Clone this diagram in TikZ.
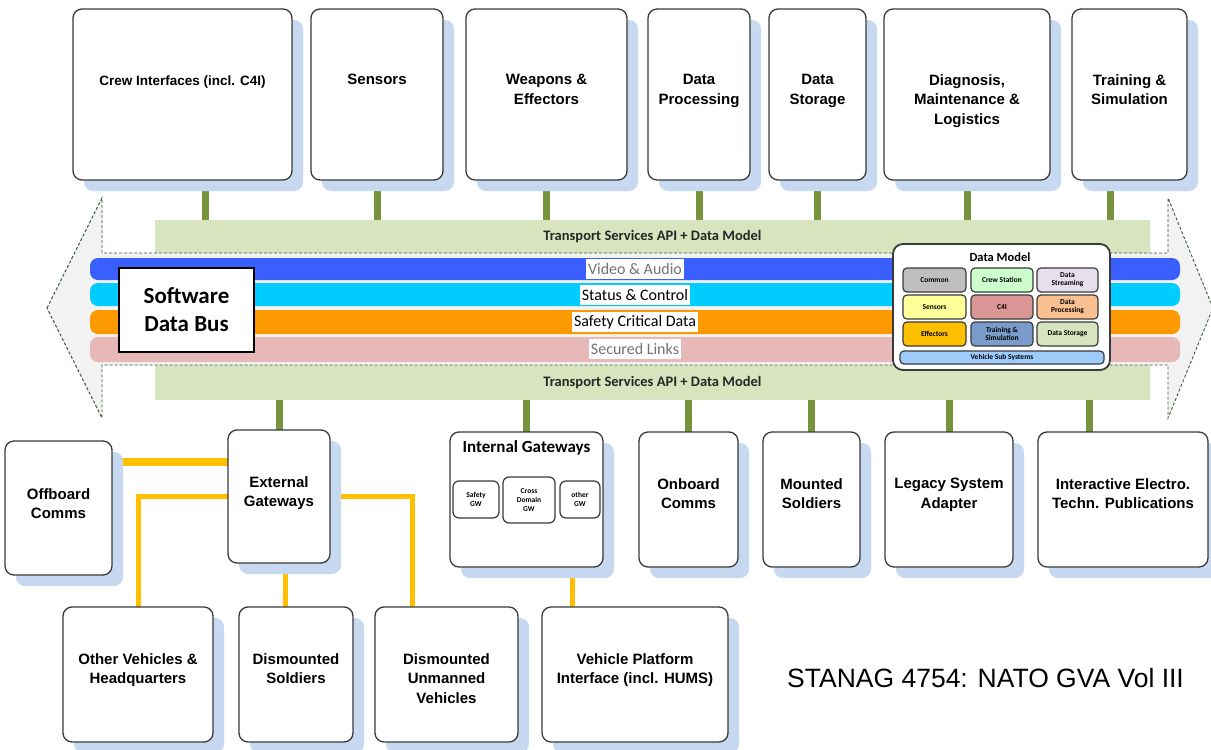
\documentclass[tikz,border=0pt]{standalone}
\usepackage{fontspec}
\setmainfont{Liberation Sans}
\newfontfamily\carl{Carlito}
\usetikzlibrary{shadows,calc}
\definecolor{shblue}{HTML}{C6D9F1}
\definecolor{bandgreen}{HTML}{D7E4BD}
\definecolor{conngreen}{HTML}{77933C}
\definecolor{connyellow}{HTML}{FFC000}
\definecolor{boxdark}{HTML}{3A3A3A}
\definecolor{lblue}{HTML}{3A5FFF}
\definecolor{lcyan}{HTML}{00CCFF}
\definecolor{lorange}{HTML}{FF9900}
\definecolor{lpink}{HTML}{E6B8B7}
\definecolor{arrowfill}{HTML}{F2F2F2}
\definecolor{arrowline}{HTML}{3C5A3C}
\definecolor{dmcommon}{HTML}{BFBFBF}
\definecolor{dmcrew}{HTML}{CCFFCC}
\definecolor{dmstream}{HTML}{E6E0EC}
\definecolor{dmsens}{HTML}{FFFF99}
\definecolor{dmcfour}{HTML}{DA9694}
\definecolor{dmproc}{HTML}{FAC090}
\definecolor{dmeff}{HTML}{FFC000}
\definecolor{dmtrain}{HTML}{7A9CCB}
\definecolor{dmstor}{HTML}{D7E4BD}
\definecolor{dmvss}{HTML}{9DCBFA}
\pgfdeclarelayer{paper}
\pgfdeclarelayer{bg}
\pgfsetlayers{paper,bg,main}
\tikzset{
  gbox/.style={draw=boxdark, line width=1.3pt, rounded corners=9pt, fill=white, inner sep=0pt, outer sep=0pt,
    drop shadow={shadow xshift=11pt, shadow yshift=-11pt, fill=shblue, opacity=1}},
  glabel/.style={font=\bfseries\fontsize{15}{19.5}\selectfont, align=center, inner sep=0pt, text=black},
  gconn/.style={draw=conngreen, line width=7pt},
  yconn/.style={draw=connyellow, line width=5pt},
  band/.style={fill=bandgreen, inner sep=0pt, font=\carl\bfseries\fontsize{14.5}{15}\selectfont, text=black!85, minimum width=995pt},
  lane/.style={rounded corners=8pt, inner sep=0pt, minimum width=1090pt},
  lanelbl/.style={fill=white, font=\carl\fontsize{16}{16}\selectfont, inner xsep=2pt, inner ysep=0pt, minimum height=20pt},
  gsub/.style={draw=boxdark, line width=1.2pt, rounded corners=6pt, fill=white, inner sep=0pt, align=center, font=\carl\bfseries\fontsize{7.5}{9}\selectfont},
  dmsub/.style={draw=boxdark, line width=1.2pt, rounded corners=4pt, inner sep=0pt, align=center, font=\carl\bfseries\fontsize{7.5}{8}\selectfont}
}
\newcommand\gvabox[7]{%
  \pgfmathsetmacro\gvw{#4-#2}\pgfmathsetmacro\gvh{#5-#3}%
  \node[gbox, minimum width=\gvw pt, minimum height=\gvh pt] (#1) at ({(#2+#4)/2},{(#3+#5)/2}) {};
  \node[glabel, anchor=north] (#1-t) at ($(#1.north)+(0,#6)$) {#7};
}
\newcommand\dmbox[7]{%
  \pgfmathsetmacro\gvw{#4-#2}\pgfmathsetmacro\gvh{#5-#3}%
  \node[dmsub, fill=#6, minimum width=\gvw pt, minimum height=\gvh pt] (#1) at ({(#2+#4)/2},{(#3+#5)/2}) {#7};
}
\begin{document}
\begin{tikzpicture}[x=1pt,y=-1pt]
\useasboundingbox (0,0) rectangle (1211,750);
\begin{pgfonlayer}{paper}
  \fill[white] (0,0) rectangle (1211,750);
\end{pgfonlayer}

% transport bands
\node[band, minimum height=33pt] (tsa1) at (652.5,236.5) {Transport Services API + Data Model};
\node[band, minimum height=35pt] (tsa2) at (652.5,382.5) {Transport Services API + Data Model};

% double arrow
\draw[fill=arrowfill, draw=arrowline, line width=0.9pt, densely dashed]
  (47,308) -- (102,198) -- (102,253) -- (1168,253) -- (1168,198) -- (1213,308)
  -- (1168,418) -- (1168,365) -- (102,365) -- (102,418) -- cycle;

% lanes
\node[lane, fill=lblue, minimum height=22pt] (lnv) at (635,269) {};
\node[lane, fill=lcyan, minimum height=23pt] (lns) at (635,294.5) {};
\node[lane, fill=lorange, minimum height=24pt] (lnc) at (635,322) {};
\node[lane, fill=lpink, minimum height=25pt] (lnl) at (635,349.5) {};
\node[lanelbl, text=black!55] (lv) at (635,269) {Video \& Audio};
\node[lanelbl] (ls) at (635,295) {Status \& Control};
\node[lanelbl] (lc) at (635,322) {Safety Critical Data};
\node[lanelbl, text=black!55] (ll) at (635,349) {Secured Links};

% software data bus
\node[draw=black, line width=2pt, fill=white, minimum width=135pt, minimum height=84pt, align=center,
  font=\carl\bfseries\fontsize{23}{28}\selectfont] (sdb) at (186.5,310) {Software\\Data Bus};

% data model
\node[draw=boxdark, line width=1.8pt, fill=white, rounded corners=10pt, minimum width=217pt, minimum height=126pt] (dm) at (1001.5,307) {};
\node[font=\carl\bfseries\fontsize{12.5}{13}\selectfont, inner sep=0pt] (dmt) at (1000,257) {Data Model};
\dmbox{dmA}{903}{268}{966}{292}{dmcommon}{Common}
\dmbox{dmB}{971}{268}{1033}{292}{dmcrew}{Crew Station}
\dmbox{dmC}{1037}{268}{1098}{292}{dmstream}{Data\\Streaming}
\dmbox{dmD}{903}{295}{966}{319}{dmsens}{Sensors}
\dmbox{dmE}{971}{295}{1033}{319}{dmcfour}{C4I}
\dmbox{dmF}{1037}{295}{1098}{319}{dmproc}{Data\\Processing}
\dmbox{dmG}{903}{322}{966}{346}{dmeff}{Effectors}
\dmbox{dmH}{971}{322}{1033}{346}{dmtrain}{Training \&\\Simulation}
\dmbox{dmI}{1037}{322}{1098}{346}{dmstor}{Data Storage}
\dmbox{dmJ}{900}{351}{1104}{364}{dmvss}{Vehicle Sub Systems}

% top boxes
\gvabox{crew}{73}{9}{292}{180}{67}{{\fontsize{13.5}{16}\selectfont Crew Interfaces (incl. C4I)}}
\gvabox{sens}{311}{9}{443}{180}{65}{Sensors}
\gvabox{weap}{466}{9}{627}{180}{65}{Weapons \&\\Effectors}
\gvabox{dproc}{648}{9}{750}{180}{65}{Data\\Processing}
\gvabox{dstor}{769}{9}{866}{180}{65}{Data\\Storage}
\gvabox{diag}{884}{9}{1050}{180}{65}{Diagnosis,\\Maintenance \&\\Logistics}
\gvabox{train}{1072}{9}{1187}{180}{65}{Training \&\\Simulation}

% middle row
\gvabox{offb}{5}{441}{112}{575}{47}{Offboard\\Comms}
\gvabox{ext}{228}{430}{330}{563}{46}{External\\Gateways}
\gvabox{intg}{450}{432}{603}{567}{8}{\carl\fontsize{17}{19}\selectfont Internal Gateways}
\gvabox{onb}{639}{432}{738}{567}{46}{Onboard\\Comms}
\gvabox{mnt}{763}{432}{860}{567}{46}{Mounted\\Soldiers}
\gvabox{leg}{885}{432}{1013}{567}{46}{Legacy System\\Adapter}
\gvabox{ietp}{1038}{432}{1208}{567}{46}{Interactive Electro.\\Techn. Publications}

\node[gsub, minimum width=46pt, minimum height=37pt] (sgw) at (476,499.5) {Safety\\GW};
\node[gsub, minimum width=52pt, minimum height=46pt] (cgw) at (529,500) {Cross\\Domain\\GW};
\node[gsub, minimum width=40pt, minimum height=37pt] (ogw) at (580,499.5) {other\\GW};

% bottom row
\gvabox{othv}{63}{607}{213}{742}{46}{Other Vehicles \&\\Headquarters}
\gvabox{dsol}{239}{607}{353}{742}{46}{Dismounted\\Soldiers}
\gvabox{dunm}{375}{607}{518}{742}{46}{Dismounted\\Unmanned\\Vehicles}
\gvabox{vpi}{542}{607}{728}{742}{46}{Vehicle Platform\\Interface (incl. HUMS)}

\node[font=\fontsize{26.5}{26.5}\selectfont, anchor=base west, inner sep=0pt] (stanag) at (787,687) {STANAG 4754: NATO GVA Vol III};

% connectors
\begin{pgfonlayer}{bg}
  \coordinate (c1) at ($(crew.south)+(22.5,0)$);
  \coordinate (c7) at ($(train.south)+(-19.5,0)$);
  \draw[gconn] (c1) -- (c1 |- tsa1.north);
  \draw[gconn] (sens.south) -- (sens.south |- tsa1.north);
  \draw[gconn] (weap.south) -- (weap.south |- tsa1.north);
  \draw[gconn] (dproc.south) -- (dproc.south |- tsa1.north);
  \draw[gconn] (dstor.south) -- (dstor.south |- tsa1.north);
  \draw[gconn] (diag.south) -- (diag.south |- tsa1.north);
  \draw[gconn] (c7) -- (c7 |- tsa1.north);

  \coordinate (b7) at ($(ietp.north)+(-34,0)$);
  \draw[gconn] (ext.north) -- (ext.north |- tsa2.south);
  \draw[gconn] (intg.north) -- (intg.north |- tsa2.south);
  \draw[gconn] (onb.north) -- (onb.north |- tsa2.south);
  \draw[gconn] (mnt.north) -- (mnt.north |- tsa2.south);
  \draw[gconn] (leg.north) -- (leg.north |- tsa2.south);
  \draw[gconn] (b7) -- (b7 |- tsa2.south);

  \coordinate (ya) at ($(offb.east)+(0,-46)$);
  \draw[yconn, line width=8pt] (ya) -- (ya -| ext.west);
  \draw[yconn] (ext.west) -| (othv.north);
  \coordinate (yb) at ($(ext.south)+(6,0)$);
  \draw[yconn] (yb) -- (yb |- dsol.north);
  \coordinate (yc) at ($(dunm.north)+(-34,0)$);
  \draw[yconn] (ext.east) -| (yc);
  \coordinate (yd) at ($(vpi.north)+(-63,0)$);
  \draw[yconn] (yd |- intg.south) -- (yd);
\end{pgfonlayer}
\end{tikzpicture}
\end{document}
